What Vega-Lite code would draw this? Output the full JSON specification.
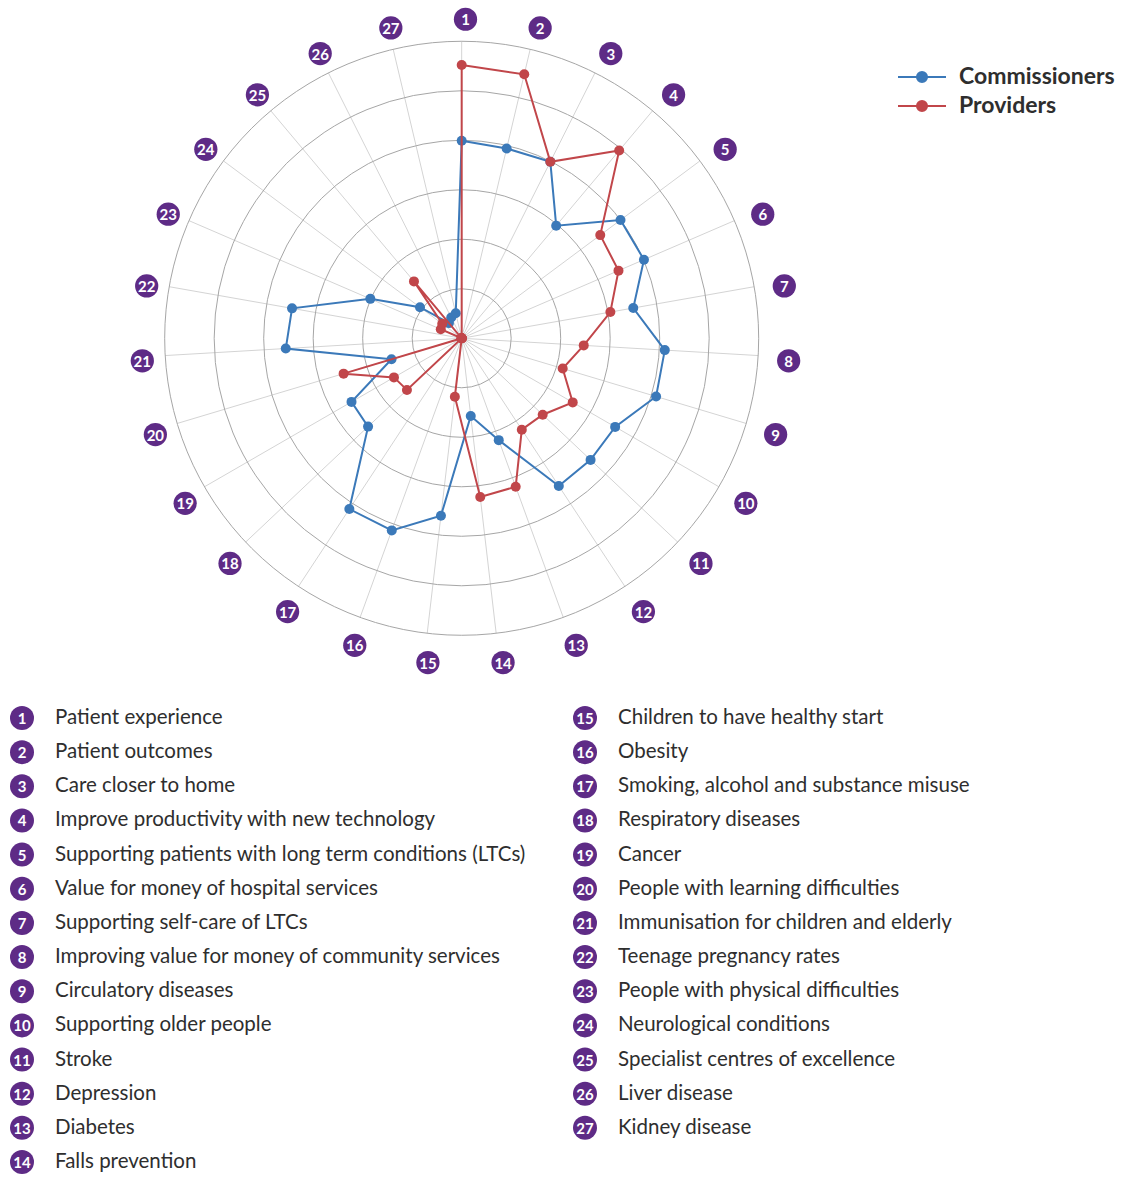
{
  "$schema": "https://vega.github.io/schema/vega-lite/v6.json",
  "width": 1133,
  "height": 1177,
  "padding": 0,
  "autosize": {"type": "none"},
  "background": "#ffffff",
  "config": {"view": {"stroke": null}, "font": "Lato"},
  "datasets": {
    "items": [
      {"item": 1, "label": "Patient experience"},
      {"item": 2, "label": "Patient outcomes"},
      {"item": 3, "label": "Care closer to home"},
      {"item": 4, "label": "Improve productivity with new technology"},
      {"item": 5, "label": "Supporting patients with long term conditions (LTCs)"},
      {"item": 6, "label": "Value for money of hospital services"},
      {"item": 7, "label": "Supporting self-care of LTCs"},
      {"item": 8, "label": "Improving value for money of community services"},
      {"item": 9, "label": "Circulatory diseases"},
      {"item": 10, "label": "Supporting older people"},
      {"item": 11, "label": "Stroke"},
      {"item": 12, "label": "Depression"},
      {"item": 13, "label": "Diabetes"},
      {"item": 14, "label": "Falls prevention"},
      {"item": 15, "label": "Children to have healthy start"},
      {"item": 16, "label": "Obesity"},
      {"item": 17, "label": "Smoking, alcohol and substance misuse"},
      {"item": 18, "label": "Respiratory diseases"},
      {"item": 19, "label": "Cancer"},
      {"item": 20, "label": "People with learning difficulties"},
      {"item": 21, "label": "Immunisation for children and elderly"},
      {"item": 22, "label": "Teenage pregnancy rates"},
      {"item": 23, "label": "People with physical difficulties"},
      {"item": 24, "label": "Neurological conditions"},
      {"item": 25, "label": "Specialist centres of excellence"},
      {"item": 26, "label": "Liver disease"},
      {"item": 27, "label": "Kidney disease"}
    ],
    "rings": [{"ring": 1}, {"ring": 2}, {"ring": 3}, {"ring": 4}, {"ring": 5}, {"ring": 6}],
    "scores": [
      {"item": 1, "series": "Commissioners", "value": 3.99},
      {"item": 2, "series": "Commissioners", "value": 3.94},
      {"item": 3, "series": "Commissioners", "value": 3.99},
      {"item": 4, "series": "Commissioners", "value": 2.97},
      {"item": 5, "series": "Commissioners", "value": 4.0},
      {"item": 6, "series": "Commissioners", "value": 4.01},
      {"item": 7, "series": "Commissioners", "value": 3.52},
      {"item": 8, "series": "Commissioners", "value": 4.11},
      {"item": 9, "series": "Commissioners", "value": 4.1},
      {"item": 10, "series": "Commissioners", "value": 3.58},
      {"item": 11, "series": "Commissioners", "value": 3.58},
      {"item": 12, "series": "Commissioners", "value": 3.57},
      {"item": 13, "series": "Commissioners", "value": 2.19},
      {"item": 14, "series": "Commissioners", "value": 1.58},
      {"item": 15, "series": "Commissioners", "value": 3.61},
      {"item": 16, "series": "Commissioners", "value": 4.13},
      {"item": 17, "series": "Commissioners", "value": 4.13},
      {"item": 18, "series": "Commissioners", "value": 2.6},
      {"item": 19, "series": "Commissioners", "value": 2.57},
      {"item": 20, "series": "Commissioners", "value": 1.48},
      {"item": 21, "series": "Commissioners", "value": 3.56},
      {"item": 22, "series": "Commissioners", "value": 3.48},
      {"item": 23, "series": "Commissioners", "value": 2.01},
      {"item": 24, "series": "Commissioners", "value": 1.05},
      {"item": 25, "series": "Commissioners", "value": 0.4},
      {"item": 26, "series": "Commissioners", "value": 0.47},
      {"item": 27, "series": "Commissioners", "value": 0.52},
      {"item": 1, "series": "Providers", "value": 5.52},
      {"item": 2, "series": "Providers", "value": 5.48},
      {"item": 3, "series": "Providers", "value": 3.99},
      {"item": 4, "series": "Providers", "value": 4.95},
      {"item": 5, "series": "Providers", "value": 3.49},
      {"item": 6, "series": "Providers", "value": 3.45},
      {"item": 7, "series": "Providers", "value": 3.05},
      {"item": 8, "series": "Providers", "value": 2.47},
      {"item": 9, "series": "Providers", "value": 2.13},
      {"item": 10, "series": "Providers", "value": 2.59},
      {"item": 11, "series": "Providers", "value": 2.25},
      {"item": 12, "series": "Providers", "value": 2.21},
      {"item": 13, "series": "Providers", "value": 3.19},
      {"item": 14, "series": "Providers", "value": 3.23},
      {"item": 15, "series": "Providers", "value": 1.19},
      {"item": 16, "series": "Providers", "value": 0},
      {"item": 17, "series": "Providers", "value": 0},
      {"item": 18, "series": "Providers", "value": 1.52},
      {"item": 19, "series": "Providers", "value": 1.58},
      {"item": 20, "series": "Providers", "value": 2.49},
      {"item": 21, "series": "Providers", "value": 0},
      {"item": 22, "series": "Providers", "value": 0},
      {"item": 23, "series": "Providers", "value": 0.46},
      {"item": 24, "series": "Providers", "value": 0.49},
      {"item": 25, "series": "Providers", "value": 1.5},
      {"item": 26, "series": "Providers", "value": 0},
      {"item": 27, "series": "Providers", "value": 0}
    ]
  },
  "resolve": {"scale": {"x": "independent", "y": "independent"}},
  "layer": [
    {
      "layer": [
        {
          "data": {"name": "items"},
          "transform": [
            {"calculate": "(datum.item - 1) * 2 * PI / 27", "as": "ang"},
            {"calculate": "0", "as": "cx"},
            {"calculate": "6 * sin(datum.ang)", "as": "sx"},
            {"calculate": "6 * cos(datum.ang)", "as": "sy"}
          ],
          "mark": {"type": "rule", "stroke": "#d4d4d4", "strokeWidth": 1},
          "encoding": {
            "x": {"field": "cx", "type": "quantitative", "scale": {"domain": [-9.327, 13.562], "nice": false, "zero": false}, "axis": null},
            "y": {"field": "cx", "type": "quantitative", "scale": {"domain": [-16.944, 6.834], "nice": false, "zero": false}, "axis": null},
            "x2": {"field": "sx"},
            "y2": {"field": "sy"}
          }
        },
        {
          "data": {"name": "rings"},
          "transform": [{"calculate": "0", "as": "cx"}],
          "mark": {"type": "point", "shape": "circle", "filled": false, "stroke": "#a6a6a6", "strokeWidth": 1, "opacity": 1},
          "encoding": {
            "x": {"field": "cx", "type": "quantitative"},
            "y": {"field": "cx", "type": "quantitative"},
            "size": {"field": "ring", "type": "quantitative", "scale": {"type": "pow", "exponent": 2, "domain": [0, 6], "range": [0, 352836]}, "legend": null}
          }
        },
        {
          "data": {"name": "items"},
          "transform": [
            {"calculate": "(datum.item - 1) * 2 * PI / 27", "as": "ang"},
            {"calculate": "0.077 + 6.54 * sin(datum.ang)", "as": "lx"},
            {"calculate": "-0.075 + 6.52 * cos(datum.ang)", "as": "ly"}
          ],
          "mark": {"type": "point", "shape": "circle", "filled": true, "size": 540, "color": "#5e2b86", "opacity": 1},
          "encoding": {
            "x": {"field": "lx", "type": "quantitative"},
            "y": {"field": "ly", "type": "quantitative"}
          }
        },
        {
          "data": {"name": "items"},
          "transform": [
            {"calculate": "(datum.item - 1) * 2 * PI / 27", "as": "ang"},
            {"calculate": "0.077 + 6.54 * sin(datum.ang)", "as": "lx"},
            {"calculate": "-0.075 + 6.52 * cos(datum.ang)", "as": "ly"}
          ],
          "mark": {"type": "text", "color": "#ffffff", "fontWeight": "bold", "fontSize": 15, "align": "center", "baseline": "middle", "dy": 1},
          "encoding": {
            "x": {"field": "lx", "type": "quantitative"},
            "y": {"field": "ly", "type": "quantitative"},
            "text": {"field": "item", "type": "nominal"}
          }
        },
        {
          "data": {"name": "scores"},
          "transform": [
            {"filter": "datum.series === 'Commissioners'"},
            {"calculate": "(datum.item - 1) * 2 * PI / 27", "as": "ang"},
            {"calculate": "datum.value * sin(datum.ang)", "as": "px"},
            {"calculate": "datum.value * cos(datum.ang)", "as": "py"}
          ],
          "mark": {"type": "line", "interpolate": "linear-closed", "strokeWidth": 2, "point": {"filled": true, "size": 100, "opacity": 1}},
          "encoding": {
            "x": {"field": "px", "type": "quantitative"},
            "y": {"field": "py", "type": "quantitative"},
            "order": {"field": "item", "type": "quantitative"},
            "color": {
              "field": "series", "type": "nominal",
              "scale": {"domain": ["Commissioners", "Providers"], "range": ["#3b79b9", "#c1464a"]},
              "legend": {
                "title": null, "orient": "none", "legendX": 909, "legendY": 64, "padding": 0,
                "symbolType": "M-2,0L2,0M-0.42,0A0.42,0.42,0,1,0,0.42,0A0.42,0.42,0,1,0,-0.42,0Z",
                "symbolSize": 576, "symbolStrokeWidth": 2,
                "labelFont": "Lato", "labelFontSize": 23, "labelFontWeight": "bold", "labelColor": "#2e2e2e", "labelOffset": 24,
                "rowPadding": 4
              }
            }
          }
        },
        {
          "data": {"name": "scores"},
          "transform": [
            {"filter": "datum.series === 'Providers'"},
            {"calculate": "(datum.item - 1) * 2 * PI / 27", "as": "ang"},
            {"calculate": "datum.value * sin(datum.ang)", "as": "px"},
            {"calculate": "datum.value * cos(datum.ang)", "as": "py"}
          ],
          "mark": {"type": "line", "interpolate": "linear-closed", "strokeWidth": 2, "point": {"filled": true, "size": 100, "opacity": 1}},
          "encoding": {
            "x": {"field": "px", "type": "quantitative"},
            "y": {"field": "py", "type": "quantitative"},
            "order": {"field": "item", "type": "quantitative"},
            "color": {"field": "series", "type": "nominal"}
          }
        }
      ]
    },
    {
      "data": {"name": "items"},
      "transform": [
        {"calculate": "datum.item <= 14 ? 'L' : 'R'", "as": "col"},
        {"calculate": "datum.item <= 14 ? datum.item : datum.item - 14", "as": "row"}
      ],
      "layer": [
        {
          "mark": {"type": "point", "shape": "circle", "filled": true, "size": 576, "color": "#5e2b86", "opacity": 1},
          "encoding": {
            "x": {"field": "col", "type": "nominal", "scale": {"type": "point", "domain": ["L", "R"], "range": [22, 585], "padding": 0}, "axis": null},
            "y": {"field": "row", "type": "ordinal", "scale": {"type": "point", "domain": [1, 2, 3, 4, 5, 6, 7, 8, 9, 10, 11, 12, 13, 14], "range": [718, 1162], "padding": 0}, "axis": null}
          }
        },
        {
          "mark": {"type": "text", "color": "#ffffff", "fontWeight": "bold", "fontSize": 15, "align": "center", "baseline": "middle", "dy": 1},
          "encoding": {
            "x": {"field": "col", "type": "nominal"},
            "y": {"field": "row", "type": "ordinal"},
            "text": {"field": "item", "type": "nominal"}
          }
        },
        {
          "mark": {"type": "text", "color": "#2e2e2e", "fontSize": 20.5, "align": "left", "baseline": "middle", "dx": 33, "font": "Lato"},
          "encoding": {
            "x": {"field": "col", "type": "nominal"},
            "y": {"field": "row", "type": "ordinal"},
            "text": {"field": "label", "type": "nominal"}
          }
        }
      ]
    }
  ]
}
